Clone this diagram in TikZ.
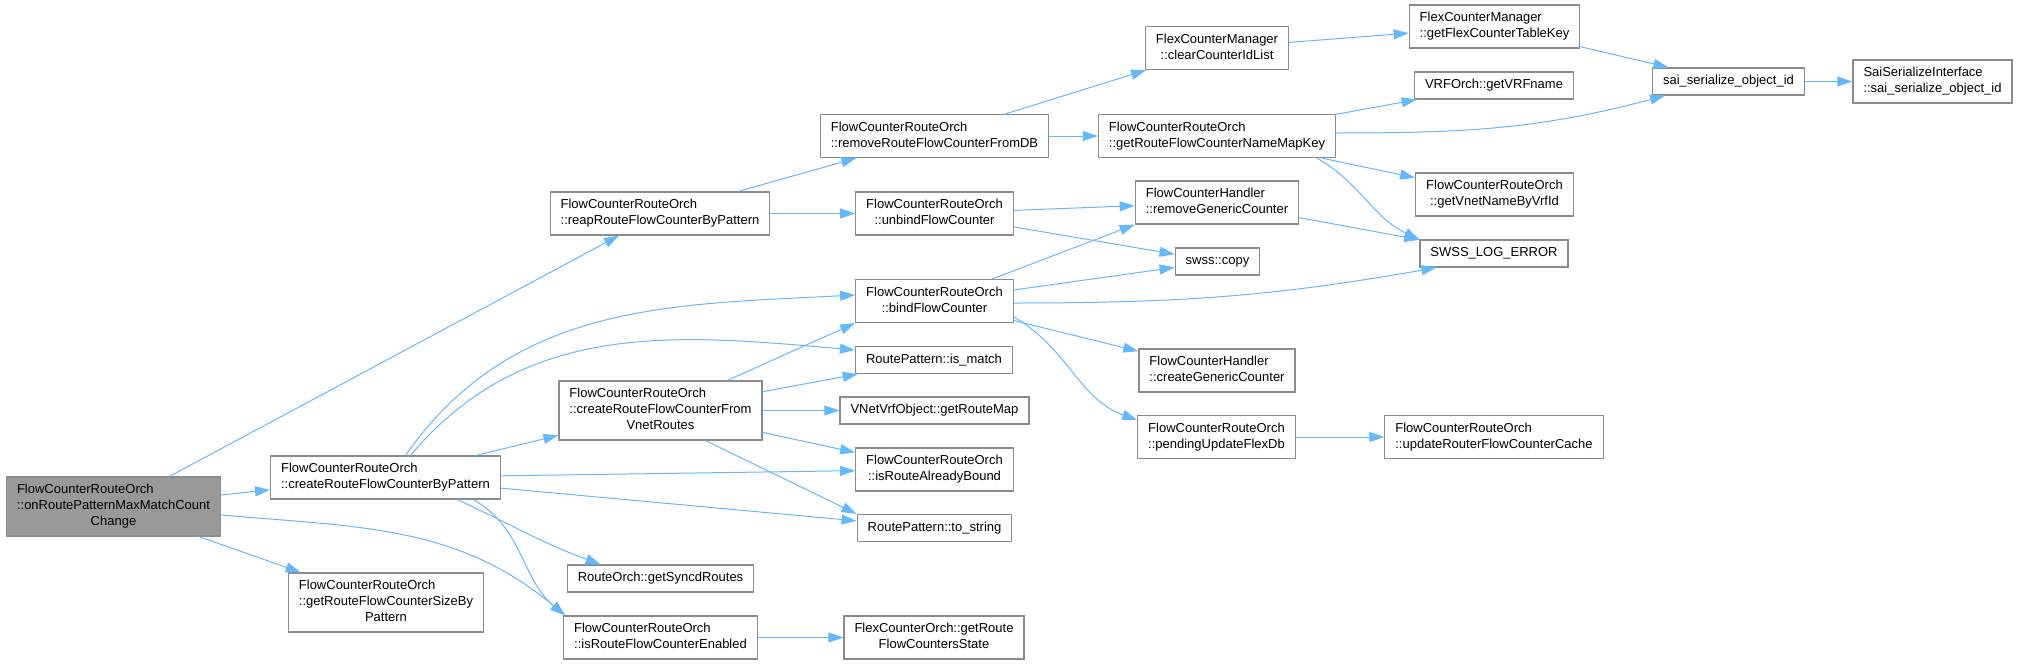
\documentclass[tikz,border=0pt]{standalone}
\usepackage{fontspec}
\setmainfont{Liberation Sans}
\usetikzlibrary{arrows.meta}

\definecolor{edgeblue}{HTML}{63B8FF}
\definecolor{boxline}{HTML}{8C8C8C}
\definecolor{boxfill}{HTML}{999999}

% two or three lines: left aligned, the last one centred
\newcommand{\twol}[2]{\begin{tabular}{@{}l@{}}#1\\\multicolumn{1}{@{}c@{}}{#2}\end{tabular}}
\newcommand{\threel}[3]{\begin{tabular}{@{}l@{}}#1\\#2\\\multicolumn{1}{@{}c@{}}{#3}\end{tabular}}

\tikzset{
  fn/.style={draw=boxline, line width=1.2pt, fill=white, inner xsep=10.5pt, inner ysep=5.5pt,
    minimum height=27pt, font=\fontsize{13pt}{16pt}\selectfont, execute at begin node=\strut},
  cur/.style={fn, fill=boxfill},
  call/.style={draw=edgeblue, line width=1pt, -{Triangle[length=15pt,width=10pt]}}
}

\begin{document}
\begin{tikzpicture}[x=1pt,y=1pt]
\useasboundingbox (0,0) rectangle (2018,-664);

\node[cur] (onchange) at (113.5,-506.5) {\threel{FlowCounterRouteOrch}{::onRoutePatternMaxMatchCount}{Change}};

\node[fn] (createpat) at (385.5,-477.5) {\twol{FlowCounterRouteOrch}{::createRouteFlowCounterByPattern}};
\node[fn] (sizepat) at (386,-602.5) {\threel{FlowCounterRouteOrch}{::getRouteFlowCounterSizeBy}{Pattern}};

\node[fn] (reap) at (660,-213.5) {\twol{FlowCounterRouteOrch}{::reapRouteFlowCounterByPattern}};
\node[fn] (createvnet) at (660.5,-410.5) {\threel{FlowCounterRouteOrch}{::createRouteFlowCounterFrom}{VnetRoutes}};
\node[fn] (syncd) at (660.5,-578.5) {RouteOrch::getSyncdRoutes};
\node[fn] (enabled) at (660.5,-637.5) {\twol{FlowCounterRouteOrch}{::isRouteFlowCounterEnabled}};

\node[fn] (rmdb) at (934.5,-136) {\twol{FlowCounterRouteOrch}{::removeRouteFlowCounterFromDB}};
\node[fn] (unbind) at (934.5,-213.5) {\twol{FlowCounterRouteOrch}{::unbindFlowCounter}};
\node[fn] (bind) at (934.5,-301) {\twol{FlowCounterRouteOrch}{::bindFlowCounter}};
\node[fn] (ismatch) at (934,-360) {RoutePattern::is\_match};
\node[fn] (routemap) at (934.5,-410.5) {VNetVrfObject::getRouteMap};
\node[fn] (bound) at (934.5,-469.5) {\twol{FlowCounterRouteOrch}{::isRouteAlreadyBound}};
\node[fn] (tostr) at (934.5,-528) {RoutePattern::to\_string};
\node[fn] (cntstate) at (934,-637.5) {\twol{FlexCounterOrch::getRoute}{FlowCountersState}};

\node[fn] (clearids) at (1217,-48) {\twol{FlexCounterManager}{::clearCounterIdList}};
\node[fn] (namekey) at (1217,-136) {\twol{FlowCounterRouteOrch}{::getRouteFlowCounterNameMapKey}};
\node[fn] (rmgeneric) at (1217,-202.5) {\twol{FlowCounterHandler}{::removeGenericCounter}};
\node[fn] (copy) at (1217.5,-261.5) {swss::copy};
\node[fn] (mkgeneric) at (1217,-370.5) {\twol{FlowCounterHandler}{::createGenericCounter}};
\node[fn] (pending) at (1216.5,-437) {\twol{FlowCounterRouteOrch}{::pendingUpdateFlexDb}};

\node[fn] (tablekey) at (1494.5,-26.5) {\twol{FlexCounterManager}{::getFlexCounterTableKey}};
\node[fn] (vrfname) at (1494,-85.5) {VRFOrch::getVRFname};
\node[fn] (vnetname) at (1494.5,-194.5) {\twol{FlowCounterRouteOrch}{::getVnetNameByVrfId}};
\node[fn] (logerr) at (1494,-253.5) {SWSS\_LOG\_ERROR};
\node[fn] (updcache) at (1494,-437) {\twol{FlowCounterRouteOrch}{::updateRouterFlowCounterCache}};

\node[fn] (saiser) at (1728.5,-81.5) {sai\_serialize\_object\_id};
\node[fn] (saiif) at (1932.5,-81.5) {\twol{SaiSerializeInterface}{::sai\_serialize\_object\_id}};

% calls
\draw[call] (onchange) -- (reap);
\draw[call] (onchange) -- (createpat);
\draw[call] (onchange) -- (sizepat);
\draw[call] ([yshift=-8.5pt]onchange.east) to[out=-5,in=140] ([xshift=2pt]enabled.north west);

\draw[call] ([xshift=20pt]createpat.north) to[out=55,in=183] ([yshift=6pt]bind.west);
\draw[call] ([xshift=25pt]createpat.north) to[out=50,in=175] ([yshift=10pt]ismatch.west);
\draw[call] (createpat) -- (createvnet);
\draw[call] (createpat) -- (bound);
\draw[call] (createpat) -- (tostr);
\draw[call] ([xshift=72pt]createpat.south) to[out=-25,in=160] ([xshift=34pt]syncd.north west);
\draw[call] ([xshift=88pt]createpat.south) to[out=-30,in=140] ([xshift=2pt]enabled.north west);

\draw[call] (createvnet) -- (bind.south west);
\draw[call] (createvnet) -- (ismatch);
\draw[call] (createvnet) -- (routemap);
\draw[call] (createvnet) -- (bound);
\draw[call] ([xshift=45pt]createvnet.south) -- (tostr.north west);

\draw[call] (reap) -- (rmdb);
\draw[call] (reap) -- (unbind);
\draw[call] (enabled) -- (cntstate);

\draw[call] (rmdb) -- (clearids);
\draw[call] (rmdb) -- (namekey);
\draw[call] (unbind) -- (rmgeneric);
\draw[call] (unbind) -- (copy);
\draw[call] (bind) -- (rmgeneric.south west);
\draw[call] (bind) -- (copy);
\draw[call] ([yshift=-2pt]bind.east) to[out=0,in=190] ([xshift=17pt]logerr.south west);
\draw[call] (bind) -- (mkgeneric);
\draw[call] ([yshift=-16pt]bind.east) to[out=-30,in=160] ([yshift=17pt]pending.west);

\draw[call] (clearids) -- (tablekey);
\draw[call] (namekey) -- (vrfname);
\draw[call] ([yshift=3pt]namekey.east) to[out=0,in=195] ([xshift=13pt]saiser.south west);
\draw[call] (namekey) -- (vnetname);
\draw[call] ([xshift=100pt]namekey.south) to[out=-30,in=155] (logerr.north west);
\draw[call] (rmgeneric) -- (logerr);
\draw[call] (pending) -- (updcache);

\draw[call] (tablekey) -- (saiser);
\draw[call] (saiser) -- (saiif);
\end{tikzpicture}
\end{document}
